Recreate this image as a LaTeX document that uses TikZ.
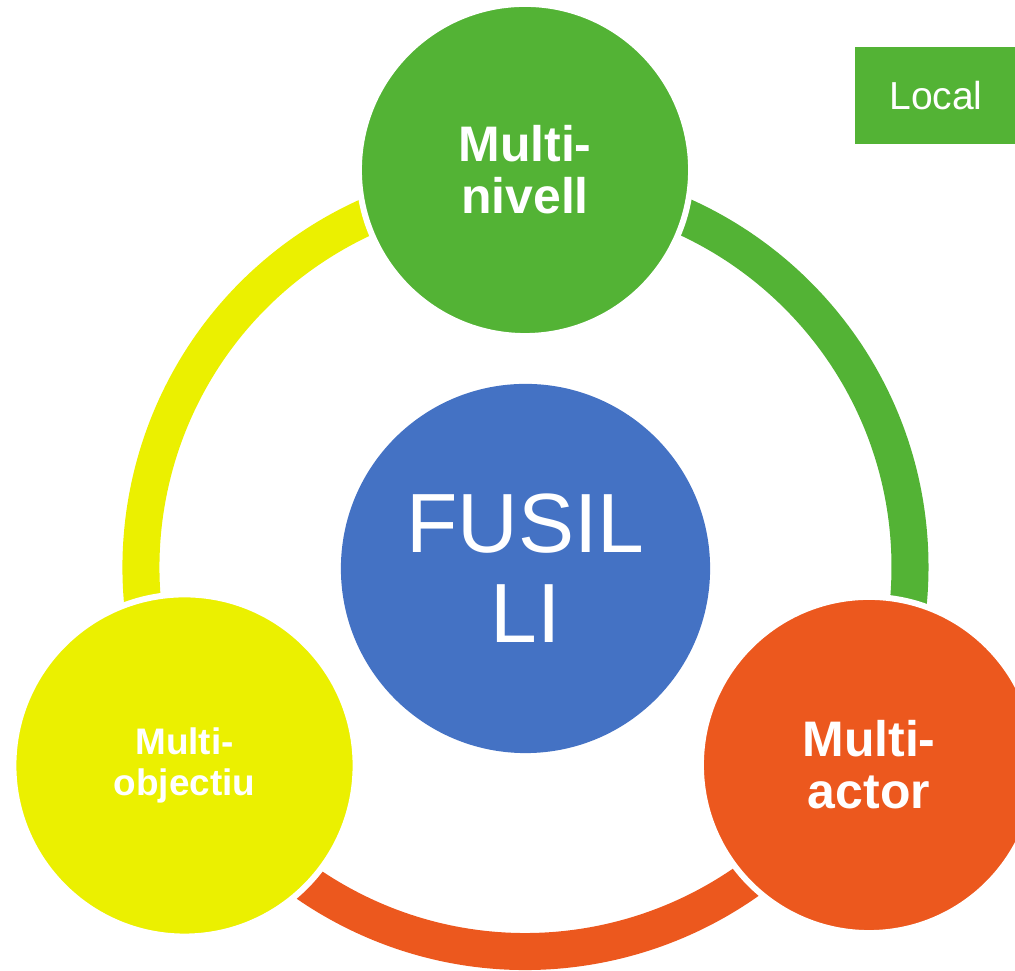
\documentclass[tikz,border=0pt]{standalone}
\usepackage{fontspec}
\setmainfont{Liberation Sans}
\definecolor{cgreen}{RGB}{83,179,53}
\definecolor{cyellow}{RGB}{235,240,0}
\definecolor{corange}{RGB}{236,88,30}
\definecolor{cblue}{RGB}{68,114,196}
\tikzset{
  bubble/.style={circle, draw=white, line width=0.6mm, inner sep=0pt, text=white, align=center, font=\bfseries},
  ringarc/.style={line width=3.7mm},
}
\begin{document}
\begin{tikzpicture}[x=0.01cm, y=0.01cm]
\useasboundingbox (0,0) rectangle (1015,971);
\coordinate (ring) at (525.5,404);
% ring segments
\draw[ringarc, cgreen]  (ring) ++(90:384.5) arc (90:-30:384.5);
\draw[ringarc, corange] (ring) ++(-30:384.5) arc (-30:-150:384.5);
\draw[ringarc, cyellow] (ring) ++(210:384.5) arc (210:90:384.5);
% circles
\node[bubble, fill=cgreen, minimum size=33.2mm, font=\bfseries\fontsize{14.2}{14.8}\selectfont] (top) at (525,801) {Multi-\\nivell};
\node[bubble, fill=cyellow, minimum size=34.2mm, font=\bfseries\fontsize{10.5}{11.4}\selectfont] (left) at (184.5,205.5) {Multi-\\objectiu};
\node[bubble, fill=corange, minimum size=33.6mm, font=\bfseries\fontsize{14.2}{14.8}\selectfont] (right) at (869,206) {Multi-\\actor};
\node[circle, fill=cblue, draw=none, inner sep=0pt, minimum size=36.9mm, text=white, align=center, font=\fontsize{23.9}{25.6}\selectfont] (center) at (525.5,402.5) {FUSIL\\LI};
% Local box
\node[fill=cgreen, minimum width=16.2mm, minimum height=9.7mm, inner sep=0pt, text=white, font=\fontsize{11.1}{13}\selectfont] (local) at (936,875.5) {Local};
\end{tikzpicture}
\end{document}
